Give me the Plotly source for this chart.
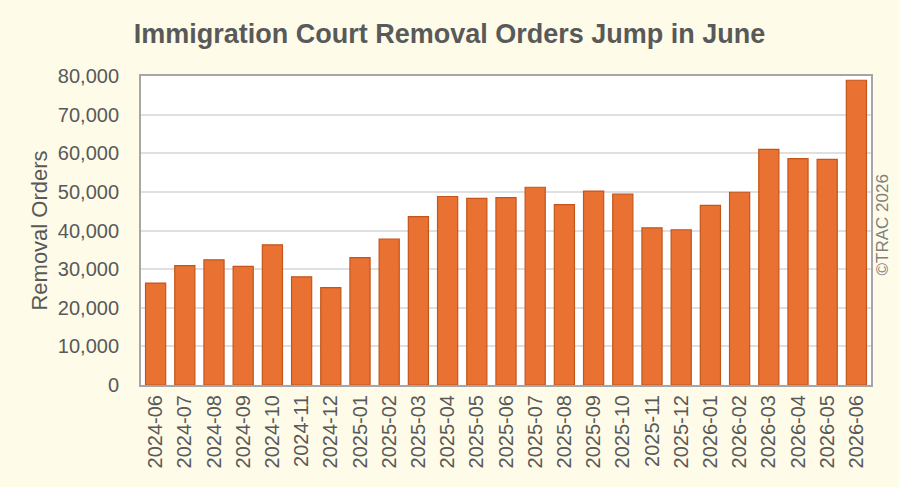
import plotly.graph_objects as go

months = ["2024-06", "2024-07", "2024-08", "2024-09", "2024-10", "2024-11", "2024-12",
          "2025-01", "2025-02", "2025-03", "2025-04", "2025-05", "2025-06", "2025-07",
          "2025-08", "2025-09", "2025-10", "2025-11", "2025-12", "2026-01", "2026-02",
          "2026-03", "2026-04", "2026-05", "2026-06"]
removal_orders = [26400, 30900, 32400, 30700, 36300, 28000, 25200,
                  33000, 37800, 43600, 48800, 48300, 48500, 51200,
                  46700, 50200, 49400, 40700, 40200, 46500, 49900,
                  61000, 58600, 58400, 78900]
y_ticks = [0, 10000, 20000, 30000, 40000, 50000, 60000, 70000, 80000]
y_tick_labels = ["0", "10,000", "20,000", "30,000", "40,000", "50,000", "60,000", "70,000", "80,000"]

fig = go.Figure(go.Bar(
    x=months, y=removal_orders,
    marker=dict(color="#E97132", line=dict(color="#C4561C", width=1.2)),
))

font_family = "Liberation Sans, Arial, sans-serif"
fig.update_layout(
    width=899, height=487,
    margin=dict(l=141, r=28, t=76, b=102),
    paper_bgcolor="#FEFCE9",
    plot_bgcolor="#FFFFFF",
    bargap=0.31,
    showlegend=False,
    font=dict(family=font_family, color="#595959", size=20),
    title=dict(text="<b>Immigration Court Removal Orders Jump in June</b>",
               x=0.5, xanchor="center", y=0.95, yanchor="top",
               font=dict(size=27, color="#595959", family=font_family)),
    xaxis=dict(
        type="category", tickangle=-90, showgrid=False, ticks="",
        tickfont=dict(size=20, color="#595959"),
        showline=True, linecolor="#A6A6A6", linewidth=2, mirror=True,
        ticklabelstandoff=0,
    ),
    yaxis=dict(
        range=[0, 80000], tickvals=y_ticks, ticktext=y_tick_labels,
        showgrid=True, gridcolor="#E0E0E0", gridwidth=1.5,
        showline=True, linecolor="#A6A6A6", linewidth=2, mirror=True,
        ticks="", ticklabelstandoff=16, zeroline=False,
        tickfont=dict(size=20, color="#595959"),
        title=dict(text="Removal Orders", font=dict(size=22, color="#595959"), standoff=4),
    ),
    annotations=[dict(
        text="©TRAC 2026", xref="paper", yref="paper", x=1.0, y=0.518,
        xanchor="left", yanchor="middle", textangle=-90, showarrow=False,
        font=dict(size=17, color="#7F7F7F", family=font_family),
    )],
)

fig.write_html("out.html")
